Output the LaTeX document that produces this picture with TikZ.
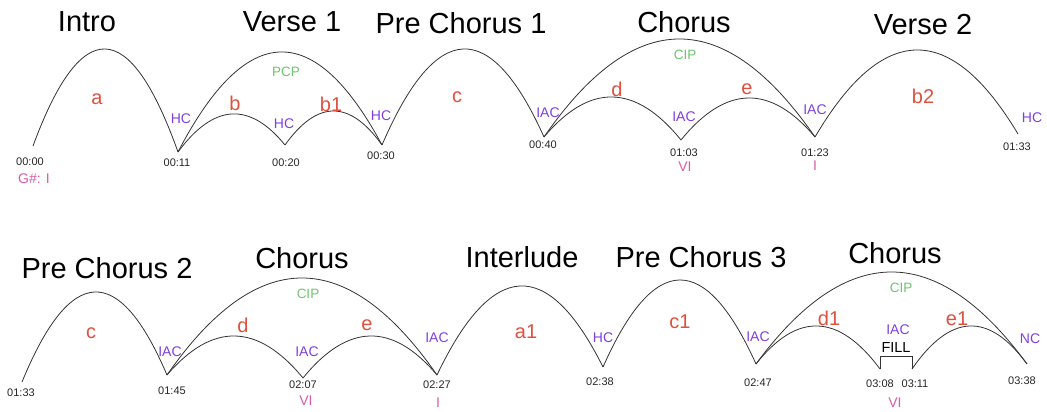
\documentclass[tikz,border=0pt]{standalone}
\usepackage{fontspec}
\setmainfont{Liberation Sans}
\usetikzlibrary{calc}
\definecolor{segred}{HTML}{E0503F}
\definecolor{cadpurple}{HTML}{7F3FE0}
\definecolor{proggreen}{HTML}{6EC46E}
\definecolor{keypink}{HTML}{D65CA6}
\tikzset{
  arcline/.style={draw=black!80, line width=0.8pt},
  title/.style={inner sep=0pt, font=\fontsize{29}{32}\selectfont},
  seg/.style={inner sep=0pt, text=segred, font=\fontsize{20}{22}\selectfont},
  cad/.style={inner sep=0pt, text=cadpurple, font=\fontsize{14}{16}\selectfont},
  prog/.style={inner sep=0pt, text=proggreen, font=\fontsize{13.5}{15}\selectfont},
  tm/.style={inner sep=0pt, text=black!85, font=\fontsize{11}{13}\selectfont},
  keyl/.style={inner sep=0pt, text=keypink, font=\fontsize{14}{16}\selectfont},
}
\newcommand\songarc[3]{%
  \path ($(#1)!0.5!(#2)$) ++(0,{-2*#3}) coordinate (ctl);
  \draw[arcline] (#1) .. controls ($(#1)!0.6667!(ctl)$) and ($(#2)!0.6667!(ctl)$) .. (#2);}
\begin{document}
\begin{tikzpicture}[x=1pt,y=-1pt]
\useasboundingbox (0,0) rectangle (1047,412);
% ---------- top row points
\coordinate (t0000) at (33,146);
\coordinate (t0011) at (178,152);
\coordinate (t0020) at (285,145);
\coordinate (t0030) at (382,145);
\coordinate (t0040) at (544,137);
\coordinate (t0103) at (681,140);
\coordinate (t0123) at (815,137);
\coordinate (t0133) at (1018,134);
\songarc{t0000}{t0011}{100}
\songarc{t0011}{t0030}{96.5}
\songarc{t0011}{t0020}{34.5}
\songarc{t0020}{t0030}{34}
\songarc{t0030}{t0040}{92}
\songarc{t0040}{t0123}{98}
\songarc{t0040}{t0103}{41.5}
\songarc{t0103}{t0123}{40.5}
\songarc{t0123}{t0133}{85.5}
% titles top
\node[title] (tIntro) at (87,22) {Intro};
\node[title] (tVerse1) at (292,22) {Verse 1};
\node[title] (tPre1) at (461,23) {Pre Chorus 1};
\node[title] (tChorus1) at (684,22) {Chorus};
\node[title] (tVerse2) at (923,25) {Verse 2};
% segment letters top
\node[seg] (sa) at (97,99) {a};
\node[seg] (sb) at (235,103) {b};
\node[seg] (sb1) at (331,104) {b1};
\node[seg] (sc) at (457,97) {c};
\node[seg] (sd) at (617,89) {d};
\node[seg] (se) at (747,89) {e};
\node[seg] (sb2) at (923,96) {b2};
% cadences top
\node[cad] (c1) at (181,119) {HC};
\node[cad] (c2) at (284,124) {HC};
\node[cad] (c3) at (381,116) {HC};
\node[cad] (c4) at (548,113) {IAC};
\node[cad] (c5) at (684,117) {IAC};
\node[cad] (c6) at (815,110) {IAC};
\node[cad] (c7) at (1032,118) {HC};
\node[prog] (p1) at (286,72) {PCP};
\node[prog] (p2) at (685,55) {CIP};
% times top
\node[tm] (m1) at (30,162) {00:00};
\node[tm] (m2) at (177,163) {00:11};
\node[tm] (m3) at (286,163) {00:20};
\node[tm] (m4) at (381,156) {00:30};
\node[tm] (m5) at (543,145) {00:40};
\node[tm] (m6) at (684,153) {01:03};
\node[tm] (m7) at (815,153) {01:23};
\node[tm] (m8) at (1017,147) {01:33};
\node[keyl] (k1) at (34,179) {G\#: I};
\node[keyl] (k2) at (685,167) {VI};
\node[keyl] (k3) at (815,166) {I};
% ---------- bottom row points
\coordinate (u0133) at (22,382);
\coordinate (u0145) at (167,375);
\coordinate (u0207) at (303,378);
\coordinate (u0227) at (437,375);
\coordinate (u0238) at (603,367);
\coordinate (u0247) at (756,364);
\coordinate (u0308) at (880,369);
\coordinate (u0311) at (912,369);
\coordinate (u0338) at (1027,364);
\coordinate (fillL) at (880,356);
\coordinate (fillR) at (912,356);
\songarc{u0133}{u0145}{86.5}
\songarc{u0145}{u0227}{97}
\songarc{u0145}{u0207}{40.5}
\songarc{u0207}{u0227}{40.5}
\songarc{u0227}{u0238}{85}
\songarc{u0238}{u0247}{85.5}
\songarc{u0247}{u0338}{92}
\songarc{u0247}{u0308}{40.5}
\songarc{u0311}{u0338}{40.5}
\draw[arcline] (u0308) -- (fillL) -- (fillR) -- (u0311);
% titles bottom
\node[title] (tPre2) at (107,268) {Pre Chorus 2};
\node[title] (tChorus2) at (302,258) {Chorus};
\node[title] (tInter) at (522,257) {Interlude};
\node[title] (tPre3) at (701,257) {Pre Chorus 3};
\node[title] (tChorus3) at (895,253) {Chorus};
% segment letters bottom
\node[seg] (sc2) at (91,333) {c};
\node[seg] (sd2) at (243,325) {d};
\node[seg] (se2) at (367,325) {e};
\node[seg] (sa1) at (526,332) {a1};
\node[seg] (sc1) at (680,322) {c1};
\node[seg] (sd1) at (829,318) {d1};
\node[seg] (se1) at (957,319) {e1};
% cadences bottom
\node[cad] (c8) at (170,352) {IAC};
\node[cad] (c9) at (307,352) {IAC};
\node[cad] (c10) at (437,338) {IAC};
\node[cad] (c11) at (603,338) {HC};
\node[cad] (c12) at (758,337) {IAC};
\node[cad] (c13) at (898,330) {IAC};
\node[cad] (c14) at (1030,339) {NC};
\node[prog] (p3) at (308,294) {CIP};
\node[prog] (p4) at (901,288) {CIP};
\node[inner sep=0pt, font=\fontsize{14.5}{16}\selectfont] (fill) at (896,348) {FILL};
% times bottom
\node[tm] (m9) at (21,393) {01:33};
\node[tm] (m10) at (172,391) {01:45};
\node[tm] (m11) at (303,385) {02:07};
\node[tm] (m12) at (437,385) {02:27};
\node[tm] (m13) at (600,382) {02:38};
\node[tm] (m14) at (758,383) {02:47};
\node[tm] (m15) at (880,384) {03:08};
\node[tm] (m16) at (915,384) {03:11};
\node[tm] (m17) at (1022,381) {03:38};
\node[keyl] (k4) at (306,401) {VI};
\node[keyl] (k5) at (438,403) {I};
\node[keyl] (k6) at (895,403) {VI};
\end{tikzpicture}
\end{document}
